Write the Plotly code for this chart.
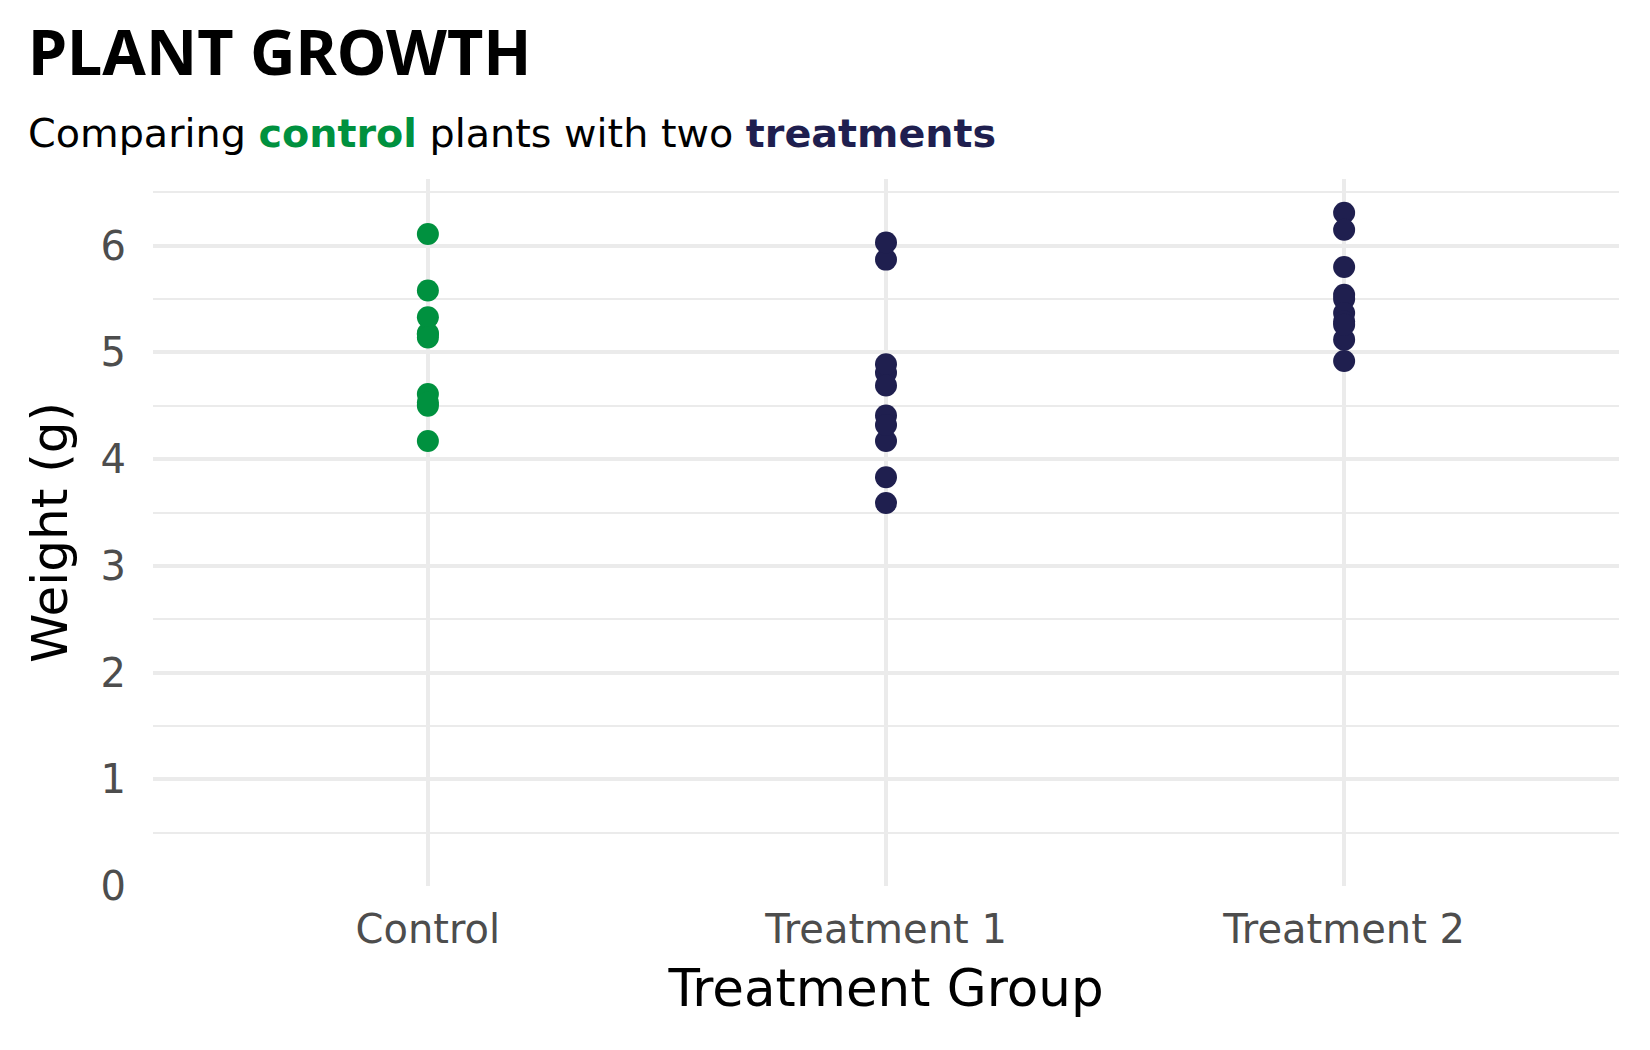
import plotly.graph_objects as go

groups = ["Control", "Treatment 1", "Treatment 2"]
ctrl = [4.17, 5.58, 5.18, 6.11, 4.50, 4.61, 5.17, 4.53, 5.33, 5.14]
trt1 = [4.81, 4.17, 4.41, 3.59, 5.87, 3.83, 6.03, 4.89, 4.32, 4.69]
trt2 = [6.31, 5.12, 5.54, 5.50, 5.37, 5.29, 4.92, 6.15, 5.80, 5.26]

GREEN = "#00913F"
NAVY = "#1F1F4F"
GRID = "#EBEBEB"
FONT = "DejaVu Sans"
TFONT = "Noto Sans"

fig = go.Figure()
for name, vals, col in [(groups[0], ctrl, GREEN), (groups[1], trt1, NAVY), (groups[2], trt2, NAVY)]:
    fig.add_trace(go.Scatter(
        x=[name] * len(vals), y=vals, mode="markers",
        marker=dict(color=col, size=22, line=dict(width=0)),
        showlegend=False, hoverinfo="x+y"))

W, H = 1650, 1050
L, R, T, B = 145, 39, 171, 172
pw = W - L - R
ph = H - T - B

def px_x(p):
    return (p - L) / pw

def px_y(p):
    return (H - B - p) / ph

fig.update_layout(
    width=W, height=H,
    margin=dict(l=L, r=R, t=T, b=B, autoexpand=False),
    paper_bgcolor="white", plot_bgcolor="white",
    font=dict(family=FONT, color="#4D4D4D"),
    title=dict(
        text="<b>PLANT GROWTH</b>", xref="container", yref="container",
        x=20 / W, y=1 - 23 / H, xanchor="left", yanchor="top",
        font=dict(size=63, color="black", family=TFONT), automargin=False,
    ),
    xaxis=dict(
        type="category", categoryorder="array", categoryarray=groups,
        range=[-0.6, 2.6], showgrid=True, gridcolor=GRID, gridwidth=4,
        zeroline=False, showline=False,
        ticks="outside", ticklen=8, tickcolor="rgba(0,0,0,0)",
        tickfont=dict(size=40, color="#4D4D4D", family=FONT),
        title=dict(text="Treatment Group", font=dict(size=51.5, color="black", family=FONT), standoff=18),
    ),
    yaxis=dict(
        range=[0, 6.6255], dtick=1, tick0=0,
        showgrid=True, gridcolor=GRID, gridwidth=4,
        zeroline=False, showline=False,
        ticks="outside", ticklen=18, tickcolor="rgba(0,0,0,0)",
        tickfont=dict(size=40, color="#4D4D4D", family=FONT),
        minor=dict(dtick=0.5, tick0=0, showgrid=True, gridcolor=GRID, gridwidth=2),
        title=dict(text="Weight (g)", font=dict(size=50, color="black", family=FONT), standoff=17),
    ),
    annotations=[
        dict(text="Comparing <b><span style='color:%s'>control</span></b> plants with two "
                  "<b><span style='color:%s'>treatments</span></b>" % (GREEN, NAVY),
             xref="paper", yref="paper",
             x=px_x(18), y=px_y(150), xanchor="left", yanchor="bottom",
             showarrow=False, font=dict(size=39.7, color="black", family=FONT)),
    ],
)

fig.write_html("out.html")
